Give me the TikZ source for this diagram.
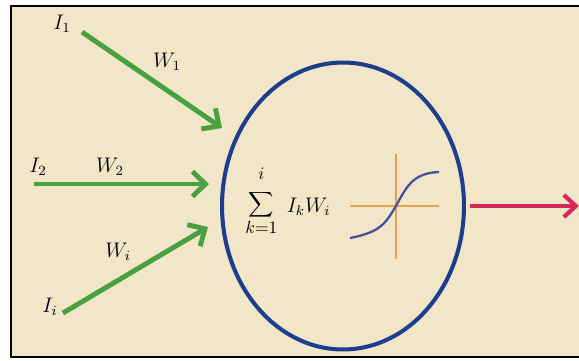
\documentclass[tikz,border=0pt]{standalone}
\usepackage{xcolor}
\usepackage{tikz}
\usetikzlibrary{arrows.meta,shapes.geometric}

\definecolor{paper}{RGB}{241,230,200}
\definecolor{ingreen}{RGB}{72,160,62}
\definecolor{cellblue}{RGB}{28,62,140}
\definecolor{curveblue}{RGB}{70,80,160}
\definecolor{axisorange}{RGB}{232,160,80}
\definecolor{outred}{RGB}{214,40,92}

\begin{document}
\begin{tikzpicture}[
    x=0.02cm, y=-0.02cm,
    label/.style={
        inner sep=0pt,
        font=\large
    },
    neuron/.style={
        ellipse,
        draw=cellblue,
        line width=2.3pt,
        minimum width=4.84cm,
        minimum height=5.74cm,
        inner sep=0pt
    },
    arrow/.style={
        draw=ingreen,
        line width=2.8pt,
        -{Straight Barb[length=2.6mm,width=5mm]}
    },
    outarrow/.style={
        draw=outred,
        line width=2.4pt,
        -{Straight Barb[length=2.4mm,width=4.4mm]}
    }
]
\useasboundingbox (0,0) rectangle (579,360);

% Frame
\fill[paper] (11,6) rectangle (579,357);
\draw[line width=1.6pt] (579,6) -- (11,6) -- (11,357) -- (579,357);

% Components
\node[neuron] (neuron) at (343,206) {};
\node[label] (in1) at (62,24) {$I_1$};
\node[label] (in2) at (38,167) {$I_2$};
\node[label] (ini) at (50,307) {$I_i$};
\node[label] (w1) at (167,62) {$W_1$};
\node[label] (w2) at (110,167) {$W_2$};
\node[label] (wi) at (118,252) {$W_i$};
\node[label, anchor=base west] (sum) at (245,212)
    {{\LARGE$\displaystyle\sum_{\scriptscriptstyle k=1}^{\raisebox{4pt}{$\scriptscriptstyle i$}}$}\;\,$I_k W_i$};

\coordinate (tail1) at (82,32);
\coordinate (head1) at (222,128);
\coordinate (tail2) at (34,184);
\coordinate (head2) at (209,184);
\coordinate (taili) at (63,313);
\coordinate (headi) at (208,227);
\coordinate (outhead) at (579,206);

% Activation
\coordinate (axl) at (350,206);
\coordinate (axr) at (439,206);
\coordinate (axt) at (396,154);
\coordinate (axb) at (396,259);
\draw[axisorange, line width=1.2pt] (axl) -- (axr);
\draw[axisorange, line width=1.2pt] (axt) -- (axb);
\draw[curveblue, line width=1.3pt] (350,238) .. controls (382,232) and (386,222) .. (396,206)
    .. controls (406,188) and (412,173) .. (439,172);

% Arrows
\draw[arrow] (tail1) -- (head1);
\draw[arrow] (tail2) -- (head2);
\draw[arrow] (taili) -- (headi);
\draw[outarrow] (neuron.east) ++(4,0) -- (outhead);

\end{tikzpicture}
\end{document}
